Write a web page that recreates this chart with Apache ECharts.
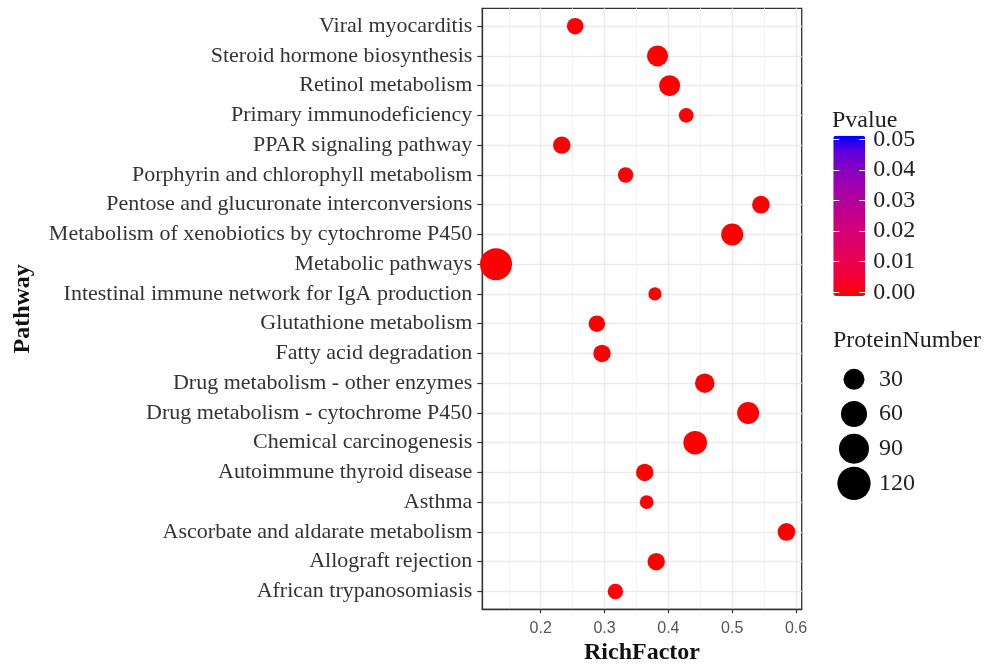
<!DOCTYPE html>
<html>
<head>
<meta charset="utf-8">
<script src="https://cdn.jsdelivr.net/npm/echarts@6/dist/echarts.min.js"></script>
<style>html,body{margin:0;padding:0;background:#fff}#c{width:992px;height:664px}</style>
</head>
<body>
<div id="c"></div>
<script>
// Pathways, top to bottom as drawn
const categories = [
  'Viral myocarditis',
  'Steroid hormone biosynthesis',
  'Retinol metabolism',
  'Primary immunodeficiency',
  'PPAR signaling pathway',
  'Porphyrin and chlorophyll metabolism',
  'Pentose and glucuronate interconversions',
  'Metabolism of xenobiotics by cytochrome P450',
  'Metabolic pathways',
  'Intestinal immune network for IgA production',
  'Glutathione metabolism',
  'Fatty acid degradation',
  'Drug metabolism - other enzymes',
  'Drug metabolism - cytochrome P450',
  'Chemical carcinogenesis',
  'Autoimmune thyroid disease',
  'Asthma',
  'Ascorbate and aldarate metabolism',
  'Allograft rejection',
  'African trypanosomiasis'
];
const richFactor = [0.254, 0.383, 0.402, 0.428, 0.233, 0.333, 0.545, 0.500, 0.130, 0.379,
                    0.288, 0.296, 0.457, 0.525, 0.442, 0.363, 0.366, 0.585, 0.381, 0.317];
const proteinNumber = [12, 30, 30, 7, 15, 9, 16, 35, 108, 4,
                       12, 15, 23, 35, 44, 15, 5, 16, 15, 9];
const pValue = [0.0004, 0.00001, 0.00002, 0.0006, 0.0003, 0.0008, 0.0002, 0.00001, 0.0, 0.0009,
                0.0002, 0.0003, 0.00005, 0.00001, 0.0, 0.0001, 0.0007, 0.0002, 0.0001, 0.0005];
const xTicks = [0.2, 0.3, 0.4, 0.5, 0.6];
const xMinorTicks = [0.15, 0.25, 0.35, 0.45, 0.55];
const pTicks = [0, 0.01, 0.02, 0.03, 0.04, 0.05];
const sizeLegend = [30, 60, 90, 120];
const pColors = ['#FF0000', '#F60030', '#EC004C', '#E00062', '#D40074', '#C40088',
                 '#B2009C', '#9C00B0', '#8400C4', '#5E00DE', '#0000FF'];

const serif = 'Liberation Serif';
const sizeFn = v => 2 * (4.37 + 1.12 * Math.sqrt(v));
const catIdx = categories.map((c, i) => i);

const mainData = categories.map((c, i) => [richFactor[i], i, proteinNumber[i], pValue[i], c]);
const legendData = sizeLegend.map(v => [0.5, String(v), v]);

const chart = echarts.init(document.getElementById('c'), null, {renderer: 'canvas'});
chart.setOption({
  backgroundColor: '#fff',
  animation: false,
  title: [
    {text: 'Pvalue', left: 832, top: 109, padding: 0,
     textStyle: {fontFamily: serif, fontSize: 24, fontWeight: 'normal', color: '#222'}},
    {text: 'ProteinNumber', left: 833, top: 329, padding: 0,
     textStyle: {fontFamily: serif, fontSize: 24, fontWeight: 'normal', color: '#222'}}
  ],
  grid: [
    {left: 482.3, top: 8.3, width: 319.4, height: 601, show: true, outerBoundsMode: 'none', containLabel: false,
     borderColor: '#333', borderWidth: 1.3, backgroundColor: 'transparent'},
    {left: 833.3, top: 139.3, width: 32, height: 153, outerBoundsMode: 'none', containLabel: false},
    {left: 838, top: 362, width: 32, height: 138.7, outerBoundsMode: 'none', containLabel: false}
  ],
  xAxis: [
    {type: 'value', gridIndex: 0, min: 0.1085, max: 0.6089,
     name: 'RichFactor', nameLocation: 'middle', nameGap: 31,
     nameTextStyle: {fontFamily: serif, fontSize: 24, fontWeight: 'bold', color: '#111'},
     axisLine: {show: true, onZero: false, lineStyle: {color: '#333', width: 1.3}},
     axisTick: {show: true, length: 4, customValues: xTicks, lineStyle: {color: '#333', width: 1.2}},
     axisLabel: {customValues: xTicks, margin: 11, fontFamily: 'Liberation Sans', fontSize: 16, color: '#555',
       formatter: v => String(Math.round(v * 10) / 10)},
     splitLine: {show: true, lineStyle: {color: '#EBEBEB', width: 1.3}}},
    {type: 'value', gridIndex: 0, min: 0.1085, max: 0.6089, position: 'bottom',
     axisLine: {show: false, onZero: false}, axisLabel: {show: false},
     axisTick: {show: false, customValues: xMinorTicks},
     splitLine: {show: true, lineStyle: {color: '#F3F3F3', width: 1}}},
    {type: 'value', gridIndex: 1, min: 0, max: 1, show: false},
    {type: 'value', gridIndex: 2, min: 0, max: 1, show: false}
  ],
  yAxis: [
    {type: 'value', gridIndex: 0, min: -0.6, max: 19.6, inverse: true,
     name: 'Pathway', nameLocation: 'middle', nameGap: 448,
     nameTextStyle: {fontFamily: serif, fontSize: 24, fontWeight: 'bold', color: '#111'},
     axisLine: {show: true, onZero: false, lineStyle: {color: '#333', width: 1.3}},
     axisTick: {show: true, length: 5, customValues: catIdx, lineStyle: {color: '#333', width: 1.2}},
     axisLabel: {customValues: catIdx, margin: 10, fontFamily: serif, fontSize: 22, color: '#333',
       formatter: v => categories[Math.round(v)]},
     splitLine: {show: true, lineStyle: {color: '#EBEBEB', width: 1.3}}},
    {type: 'value', gridIndex: 1, min: 0, max: 0.05, interval: 0.01, position: 'right', z: 6,
     axisLine: {show: false, onZero: false},
     axisTick: {show: true, inside: true, length: 6, lineStyle: {color: '#fff', width: 1}},
     axisLabel: {margin: 8, fontFamily: serif, fontSize: 24, color: '#222', formatter: v => v.toFixed(2)},
     splitLine: {show: false}},
    {type: 'value', gridIndex: 1, min: 0, max: 0.05, interval: 0.01, position: 'left', z: 6,
     axisLine: {show: false, onZero: false},
     axisTick: {show: true, inside: true, length: 6, lineStyle: {color: '#fff', width: 1}},
     axisLabel: {show: false}, splitLine: {show: false}},
    {type: 'category', gridIndex: 2, data: sizeLegend.map(String), inverse: true, position: 'right',
     axisLine: {show: false}, axisTick: {show: false},
     axisLabel: {margin: 9, fontFamily: serif, fontSize: 24, color: '#222'},
     splitLine: {show: false}}
  ],
  visualMap: [{
    type: 'continuous', seriesIndex: 0, dimension: 3, min: 0, max: 0.05,
    left: 818.3, top: 120.7, itemWidth: 32, itemHeight: 160.3,
    calculable: false, text: null, showLabel: false, hoverLink: false,
    inRange: {color: pColors}
  }],
  series: [
    {type: 'scatter', xAxisIndex: 0, yAxisIndex: 0, data: mainData,
     symbol: 'circle', symbolSize: val => sizeFn(val[2]),
     itemStyle: {opacity: 1}, emphasis: {disabled: true}},
    {type: 'scatter', xAxisIndex: 3, yAxisIndex: 3, data: legendData,
     symbol: 'circle', symbolSize: val => sizeFn(val[2]),
     itemStyle: {color: '#000', opacity: 1}, emphasis: {disabled: true}}
  ]
});
</script>
</body>
</html>
